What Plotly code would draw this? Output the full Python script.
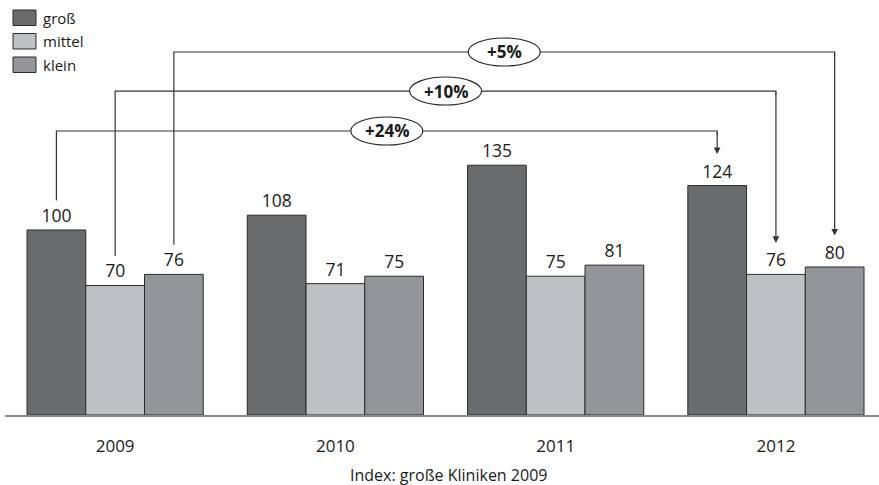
import plotly.graph_objects as go

years = ["2009", "2010", "2011", "2012"]
series_names = ["groß", "mittel", "klein"]
gross = [100, 108, 135, 124]
mittel = [70, 71, 75, 76]
klein = [76, 75, 81, 80]
changes = ["+24%", "+10%", "+5%"]
footnote = "Index: große Kliniken 2009"

colors = ["#6b6c6e", "#bfc0c3", "#939598"]
outline = "#2b2b2b"
FONT = "Open Sans"

W, H = 879, 485
ML, MR, MT, MB = 5, 0, 0, 70
PW, PH = W - ML - MR, H - MT - MB
X_RANGE = [-0.5, 3.468]
Y_RANGE = [0, 224.3]

fig = go.Figure()
xs = list(range(len(years)))
for name, vals, col in zip(series_names, [gross, mittel, klein], colors):
    fig.add_trace(go.Bar(
        x=xs, y=vals, name=name, marker=dict(color=col, line=dict(color=outline, width=1)),
        text=[str(v) for v in vals], textposition="outside", cliponaxis=False,
        textfont=dict(family=FONT, size=17.5, color="#1a1a1a"), showlegend=False,
    ))

# connectors: from 2009 bar of each series to 2012 bar of same series
nser = len(series_names)
bw = 0.8 / nser
levels = [153.5, 175.1, 196.2]
all_vals = [gross, mittel, klein]
shapes = []
annotations = []
for i, (vals, lvl, lab) in enumerate(zip(all_vals, levels, changes)):
    off = (i - (nser - 1) / 2) * bw
    xa = xs[0] + off
    xb = xs[-1] + off
    ya = vals[0] + 16
    yb = vals[-1] + 17
    shapes.append(dict(type="path", xref="x", yref="y",
                       path=f"M {xa},{ya} L {xa},{lvl} L {xb},{lvl} L {xb},{lvl-2}",
                       line=dict(color="#333333", width=1.2)))
    annotations.append(dict(x=xb, y=yb, ax=xb, ay=lvl, xref="x", yref="y", axref="x", ayref="y",
                            text="", showarrow=True, arrowhead=2, arrowsize=1.1, arrowwidth=1.2,
                            arrowcolor="#333333"))
    xm = (xa + xb) / 2
    shapes.append(dict(type="circle", xref="x", yref="y", xsizemode="pixel", ysizemode="pixel",
                       xanchor=xm, yanchor=lvl, x0=-36, x1=36, y0=-14, y1=14,
                       fillcolor="white", line=dict(color="#222222", width=1.1)))
    annotations.append(dict(x=xm, y=lvl, xref="x", yref="y", text=f"<b>{lab}</b>", showarrow=False,
                            font=dict(family=FONT, size=17, color="#1a1a1a"),
                            xanchor="center", yanchor="middle"))

# manual legend (pixel -> paper)
def px(x):
    return (x - ML) / PW

def py(y):
    return 1 - (y - MT) / PH

for k, (name, col) in enumerate(zip(series_names, colors)):
    top = 10 + 23.5 * k
    shapes.append(dict(type="rect", xref="paper", yref="paper", x0=px(13), x1=px(36),
                       y0=py(top), y1=py(top + 15.5), fillcolor=col,
                       line=dict(color=outline, width=1)))
    annotations.append(dict(x=px(41), y=py(top + 8), xref="paper", yref="paper", text=name,
                            showarrow=False, xanchor="left", yanchor="middle",
                            font=dict(family=FONT, size=15, color="#1a1a1a")))

annotations.append(dict(x=px(448), y=py(475), xref="paper", yref="paper", text=footnote,
                        showarrow=False, xanchor="center", yanchor="middle",
                        font=dict(family=FONT, size=16, color="#1a1a1a")))

fig.update_layout(
    width=W, height=H, margin=dict(l=ML, r=MR, t=MT, b=MB),
    paper_bgcolor="white", plot_bgcolor="white",
    barmode="group", bargap=0.2, bargroupgap=0,
    shapes=shapes, annotations=annotations, showlegend=False,
    font=dict(family=FONT),
    xaxis=dict(range=X_RANGE, tickvals=xs, ticktext=years, showgrid=False, zeroline=False,
               showline=True, linecolor="#8a8a8a", linewidth=2, ticks="",
               ticklabelstandoff=15,
               tickfont=dict(family=FONT, size=17, color="#1a1a1a", weight=500)),
    yaxis=dict(range=Y_RANGE, visible=False, showgrid=False, zeroline=False),
)

fig.write_html("out.html")
